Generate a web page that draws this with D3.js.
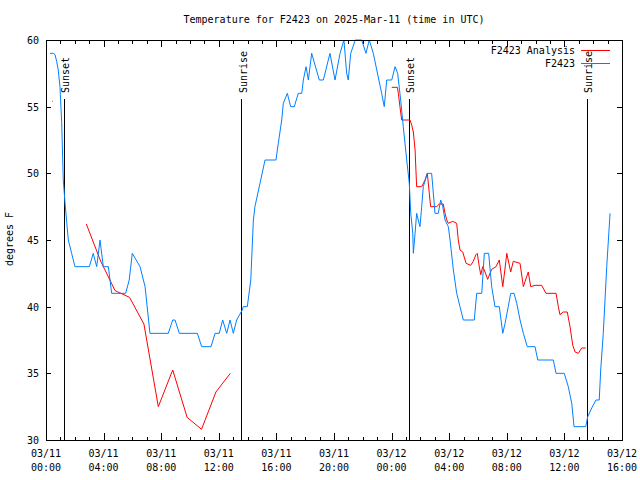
<!DOCTYPE html>
<html>
<head>
<meta charset="utf-8">
<script src="https://cdn.jsdelivr.net/npm/d3@7"></script>
<style>
  html, body { margin: 0; padding: 0; background: #fff; }
  svg { display: block; }
  text { font-family: "DejaVu Sans Mono", "Liberation Mono", monospace; font-size: 10px; fill: #000; }
</style>
</head>
<body>
<svg id="chart" width="640" height="480"></svg>
<script>
// ---- Data (hours since 2025-03-11 00:00 UTC) ----
const titleText = "Temperature for F2423 on 2025-Mar-11 (time in UTC)";
const yLabelText = "degrees F";
const seriesNames = ["F2423 Analysis", "F2423"];
const seriesColors = ["#ff0000", "#0080ff"];

const obsHours = [0.28,0.51,0.63,0.74,0.85,0.97,1.09,1.20,1.32,1.44,1.55,1.78,2.01,3.01,3.28,3.52,3.75,3.98,4.33,4.56,5.53,5.78,5.99,6.53,6.88,7.22,8.49,8.80,8.96,9.26,10.51,10.81,11.46,11.74,12.03,12.27,12.55,12.78,13.01,13.24,13.63,13.70,13.98,14.22,14.40,14.51,14.86,15.21,15.97,16.13,16.37,16.48,16.76,16.99,17.24,17.52,17.76,17.87,18.06,18.22,18.45,18.98,19.26,19.72,20.07,20.42,20.69,20.88,20.99,21.16,21.48,21.92,22.22,22.45,22.73,22.97,23.31,23.49,23.66,24.01,24.24,24.42,24.63,24.81,25.05,25.23,25.33,25.47,25.51,25.63,25.74,25.85,25.97,26.09,26.20,26.48,26.78,26.94,27.01,27.24,27.41,27.55,27.71,27.94,28.06,28.29,28.52,28.75,28.98,29.74,29.91,30.26,30.44,30.74,30.95,31.18,31.48,31.72,31.88,32.10,32.27,32.50,32.69,32.92,33.15,33.42,33.96,34.15,35.23,35.42,35.99,36.27,36.51,36.67,37.48,37.62,37.90,38.19,38.42,38.52,38.70,38.94,39.17];
const obsTemp = [59,59,58.9,58.4,57.75,56.5,53.8,49.5,47.8,46.3,45,44,43,43,44,43,45,43,43,41,41,42,44,43,41.5,38,38,39,39,38,38,37,37,38,38,39,38,39,38,39,39.75,40,40,42,46.5,47.5,49.25,51,51,52.25,54,55.25,56,55,55,56,56,57,58,57,59,57,57,59,57,59,60,57.5,57,59,60,60,59,60,59,57.75,56,55,57,57,58,57.5,55.5,53.5,51,49.25,47,45.5,44,45.5,47,46.5,46,47.5,49,50,50,48,47,47,48,47.5,46.5,46,45,42.75,41,40,39,39,41,41,44,44,41.5,40,40,38,38.75,40,41,41,40.25,39,38,37,37,36,36,35,35,34,32.75,31,31,31.75,32.4,33,33,35.25,38,43,47];

// Analysis: null marks a gap in the series
const anaHours = [0.42,0.47,null,2.8,3.8,4.8,5.8,6.8,7.8,8.8,9.8,10.8,11.8,12.8,null,24.01,24.40,24.47,24.58,24.70,25.28,25.40,25.51,25.63,25.74,26.09,26.32,26.48,26.62,26.71,27.13,27.31,27.59,27.71,27.83,27.94,28.24,28.52,28.63,28.75,28.94,29.17,29.49,29.67,29.86,29.95,30.09,30.19,30.33,30.49,30.67,30.95,31.25,31.48,31.72,31.88,32.00,32.27,32.45,32.92,33.15,33.49,33.66,33.96,34.42,34.72,35.42,35.58,35.69,35.92,36.20,36.39,36.58,36.74,36.97,37.20,37.48];
const anaTemp = [55.4,55.4,null,46.2,43.4,41.2,40.7,38.7,32.5,35.25,31.7,30.8,33.6,35.0,null,56.45,56.45,56,55,54,54,53.6,53.1,51.75,49,49,49.5,50,48.5,47.5,47.5,47.7,47.7,47,46.5,46.25,46.4,46.25,45,44.25,44.1,43.25,43.1,43.4,43.9,44,43,42.4,43,42.6,42.05,42.8,43,43.5,41.5,42.9,44,42.6,43.4,43.25,41.5,42.6,41.5,41.6,41.6,41,41,40,39.4,39.6,39.6,38.5,37.1,36.6,36.5,36.9,36.9];

const sunEventHours = [1.28, 13.61, 25.21, 37.57];
const sunEventLabels = ["Sunset", "Sunrise", "Sunset", "Sunrise"];

const yTicks = [30, 35, 40, 45, 50, 55, 60];
const startMs = Date.UTC(2025, 2, 11, 0, 0);
const spanHours = 40;

// ---- Chart ----
const svg = d3.select("#chart");
const L = 46, R = 622, T = 40, B = 440;
const toDate = h => new Date(startMs + h * 3600e3);

const x = d3.scaleUtc().domain([toDate(0), toDate(spanHours)]).range([L, R]);
const y = d3.scaleLinear().domain([30, 60]).range([B, T]);

const majorTicks = x.ticks(d3.utcHour.every(4));
const minorTicks = x.ticks(d3.utcHour.every(1)).filter(d => d.getUTCHours() % 4 !== 0);

const axisG = svg.append("g").attr("shape-rendering", "crispEdges");
function styleAxis(g) { g.select(".domain").remove(); g.selectAll("line").attr("stroke", "#000"); g.selectAll("text").remove(); }

axisG.append("g").attr("transform", `translate(0,${B})`).call(d3.axisBottom(x).tickValues(minorTicks).tickSize(-3.5)).call(styleAxis);
axisG.append("g").attr("transform", `translate(0,${B})`).call(d3.axisBottom(x).tickValues(majorTicks).tickSize(-7)).call(styleAxis);
axisG.append("g").attr("transform", `translate(0,${T})`).call(d3.axisTop(x).tickValues(minorTicks).tickSize(-3.5)).call(styleAxis);
axisG.append("g").attr("transform", `translate(0,${T})`).call(d3.axisTop(x).tickValues(majorTicks).tickSize(-7)).call(styleAxis);
axisG.append("g").attr("transform", `translate(${R},0)`).call(d3.axisRight(y).tickValues(yTicks).tickSize(-5)).call(styleAxis);

const leftAxis = axisG.append("g").attr("transform", `translate(${L},0)`)
  .call(d3.axisLeft(y).tickValues(yTicks).tickSize(-5).tickPadding(7).tickFormat(d3.format("d")));
leftAxis.select(".domain").remove();
leftAxis.selectAll("line").attr("stroke", "#000");
leftAxis.selectAll("text").attr("font-family", null).attr("font-size", null).attr("dy", "0.35em");

// x labels (two lines)
const fmtDay = d3.utcFormat("%m/%d"), fmtTime = d3.utcFormat("%H:%M");
const xl = svg.append("g");
majorTicks.forEach(d => {
  const t = xl.append("text").attr("text-anchor", "middle").attr("x", x(d));
  t.append("tspan").attr("x", x(d)).attr("y", 457).text(fmtDay(d));
  t.append("tspan").attr("x", x(d)).attr("y", 471).text(fmtTime(d));
});

// sunrise / sunset markers
const sunG = svg.append("g");
sunEventHours.forEach((h, i) => {
  const xp = x(toDate(h));
  sunG.append("line").attr("x1", xp).attr("x2", xp).attr("y1", 99).attr("y2", B)
    .attr("stroke", "#000").attr("stroke-width", 1).attr("shape-rendering", "crispEdges");
  sunG.append("text").attr("transform", `translate(${xp + 5},93) rotate(-90)`).attr("text-anchor", "start").text(sunEventLabels[i]);
});

// data lines
function pts(hs, vs) { return hs.map((h, i) => ({ h, v: vs[i] })); }
const line = d3.line().defined(d => d.h !== null && d.v !== null).x(d => x(toDate(d.h))).y(d => y(d.v));

svg.append("path").datum(pts(anaHours, anaTemp)).attr("d", line)
  .attr("fill", "none").attr("stroke", seriesColors[0]).attr("stroke-width", 1);
svg.append("path").datum(pts(obsHours, obsTemp)).attr("d", line)
  .attr("fill", "none").attr("stroke", seriesColors[1]).attr("stroke-width", 1);

// frame
svg.append("rect").attr("x", L).attr("y", T).attr("width", R - L).attr("height", B - T)
  .attr("fill", "none").attr("stroke", "#000").attr("shape-rendering", "crispEdges");

// title
svg.append("text").attr("x", (L + R) / 2).attr("y", 23).attr("text-anchor", "middle").text(titleText);

// y label
svg.append("text").attr("transform", `translate(13,239) rotate(-90)`).attr("text-anchor", "middle").text(yLabelText);

// legend
const lg = svg.append("g");
seriesNames.forEach((name, i) => {
  const yy = 50 + i * 13;
  lg.append("text").attr("x", 575).attr("y", yy + 3.5).attr("text-anchor", "end").text(name);
  lg.append("line").attr("x1", 581).attr("x2", 610).attr("y1", yy).attr("y2", yy)
    .attr("stroke", seriesColors[i]).attr("stroke-width", 1).attr("shape-rendering", "crispEdges");
});
</script>
</body>
</html>
